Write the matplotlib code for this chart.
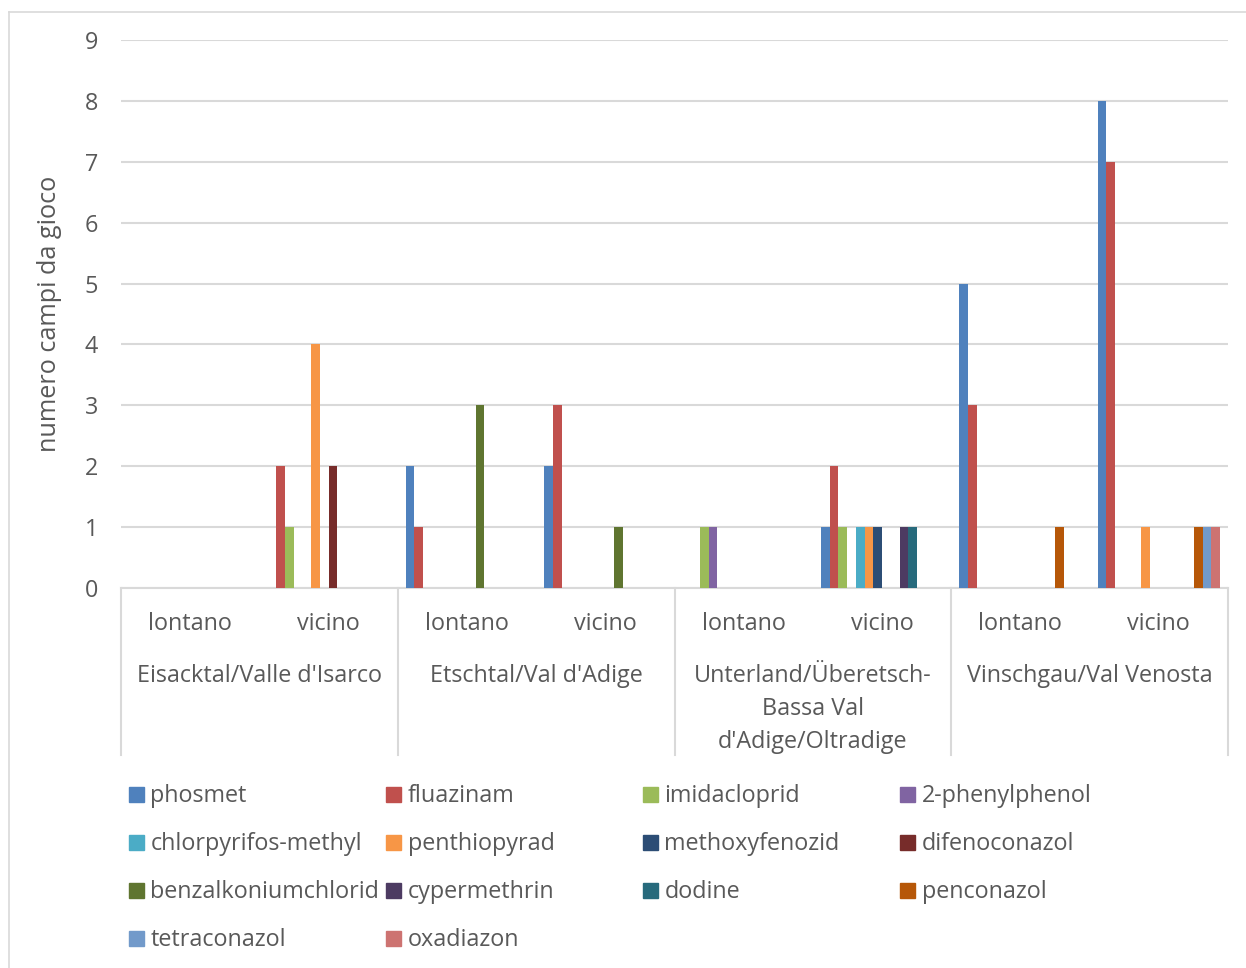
import numpy as np
import matplotlib.pyplot as plt
from matplotlib.patches import Rectangle
from matplotlib.lines import Line2D
from matplotlib.transforms import blended_transform_factory

plt.rcParams['font.family'] = ['Open Sans', 'DejaVu Sans']

# categories
regions = ["Eisacktal/Valle d'Isarco", "Etschtal/Val d'Adige",
           "Unterland/Überetsch-\nBassa Val\nd'Adige/Oltradige", "Vinschgau/Val Venosta"]
distances = ["lontano", "vicino"]

# series (order: Eis lontano, Eis vicino, Etsch lontano, Etsch vicino,
#                Unter lontano, Unter vicino, Vinsch lontano, Vinsch vicino)
series_names = ["phosmet", "fluazinam", "imidacloprid", "2-phenylphenol",
                "chlorpyrifos-methyl", "penthiopyrad", "methoxyfenozid", "difenoconazol",
                "benzalkoniumchlorid", "cypermethrin", "dodine", "penconazol",
                "tetraconazol", "oxadiazon"]
phosmet = [0, 0, 2, 2, 0, 1, 5, 8]
fluazinam = [0, 2, 1, 3, 0, 2, 3, 7]
imidacloprid = [0, 1, 0, 0, 1, 1, 0, 0]
phenylphenol = [0, 0, 0, 0, 1, 0, 0, 0]
chlorpyrifos_methyl = [0, 0, 0, 0, 0, 1, 0, 0]
penthiopyrad = [0, 4, 0, 0, 0, 1, 0, 1]
methoxyfenozid = [0, 0, 0, 0, 0, 1, 0, 0]
difenoconazol = [0, 2, 0, 0, 0, 0, 0, 0]
benzalkoniumchlorid = [0, 0, 3, 1, 0, 0, 0, 0]
cypermethrin = [0, 0, 0, 0, 0, 1, 0, 0]
dodine = [0, 0, 0, 0, 0, 1, 0, 0]
penconazol = [0, 0, 0, 0, 0, 0, 1, 1]
tetraconazol = [0, 0, 0, 0, 0, 0, 0, 1]
oxadiazon = [0, 0, 0, 0, 0, 0, 0, 1]
values = [phosmet, fluazinam, imidacloprid, phenylphenol, chlorpyrifos_methyl,
          penthiopyrad, methoxyfenozid, difenoconazol, benzalkoniumchlorid,
          cypermethrin, dodine, penconazol, tetraconazol, oxadiazon]

colors = ["#4F81BD", "#C0504D", "#9BBB59", "#8064A2", "#4BACC6", "#F79646",
          "#2C4D75", "#772C2A", "#5F7530", "#4D3B62", "#276A7C", "#B65708",
          "#729ACA", "#CD7371"]

txt = "#595959"
grid_c = "#D9D9D9"
fs = 16.8

fig = plt.figure(figsize=(12.46, 9.68), dpi=100)
W, H = 1246, 968
ax = fig.add_axes([121 / W, 1 - 588 / H, (1228 - 121) / W, (588 - 40) / H])

n = len(series_names)
w = 0.0632
x = np.arange(len(regions) * len(distances))
for k in range(n):
    ax.bar(x + (k - (n - 1) / 2) * w, values[k], width=w, color=colors[k], zorder=3)

ax.set_xlim(-0.5, 7.5)
ax.set_ylim(0, 9)
ax.set_yticks(range(10))
ax.yaxis.grid(True, color=grid_c, linewidth=1.5, zorder=0)
ax.tick_params(axis='y', length=0, pad=16.5, labelsize=fs, labelcolor=txt)
ax.set_xticks([])
for s in ["top", "right", "left"]:
    ax.spines[s].set_visible(False)
ax.spines["bottom"].set_color(grid_c)
ax.spines["bottom"].set_linewidth(1.5)
ax.set_ylabel("numero campi da gioco", fontsize=18.2, color=txt)
ax.yaxis.set_label_coords(-0.0533, 0.5)

tr = blended_transform_factory(ax.transData, ax.transAxes)
for i in x:
    ax.text(i, -0.066, distances[i % 2], transform=tr, ha='center', va='center',
            fontsize=fs, color=txt)
for r, name in enumerate(regions):
    ax.text(2 * r + 0.5, -0.139, name, transform=tr, ha='center', va='top',
            fontsize=fs, color=txt, linespacing=1.5)
for b in np.arange(-0.5, 8, 2):
    ax.add_line(Line2D([b, b], [0, -0.305], transform=tr, color=grid_c,
                       linewidth=1.5, clip_on=False))

# legend in Excel-style fixed grid
for k, name in enumerate(series_names):
    row, col = divmod(k, 4)
    px = 129 + col * 257
    py = 794 + row * 48
    fig.add_artist(Rectangle((px / W, 1 - (py + 7.5) / H), 15 / W, 15 / H,
                             transform=fig.transFigure, color=colors[k]))
    fig.text((px + 21.5) / W, 1 - (py + 1.5) / H, name, ha='left', va='center',
             fontsize=fs, color=txt)

# chart border
fig.add_artist(Line2D([8.5 / W, 1], [1 - 11.5 / H] * 2, transform=fig.transFigure,
                      color=grid_c, linewidth=1.2))
fig.add_artist(Line2D([8.5 / W] * 2, [0, 1 - 11.5 / H], transform=fig.transFigure,
                      color=grid_c, linewidth=1.2))

fig.savefig("out.png", dpi=100)
